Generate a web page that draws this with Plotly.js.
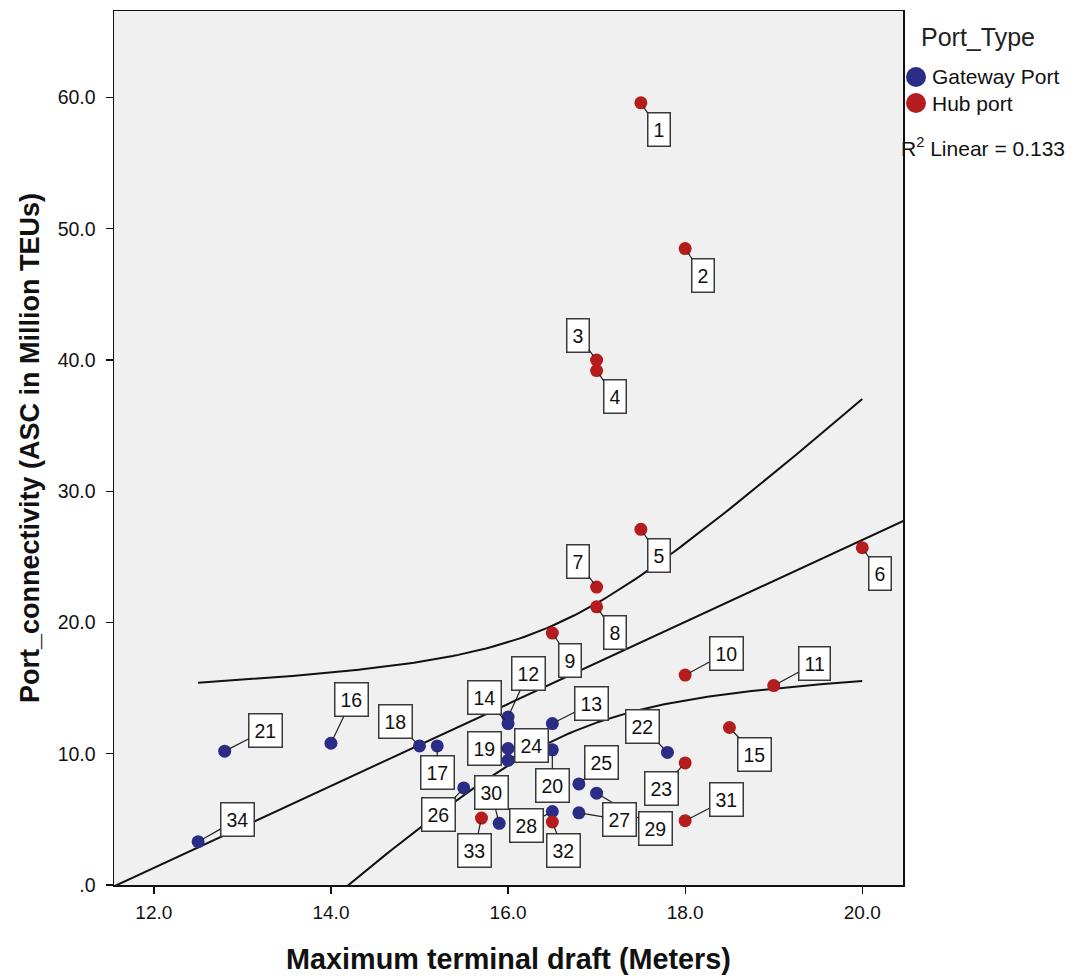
<!DOCTYPE html>
<html>
<head>
<meta charset="utf-8">
<script src="https://cdn.plot.ly/plotly-3.0.1.min.js"></script>
<style>html,body{margin:0;padding:0;background:#fff;}#chart{width:1078px;height:978px;}</style>
</head>
<body>
<div id="chart"></div>
<script>
// ---- data ----
const caseIds = [1,2,3,4,5,6,7,8,9,10,11,12,13,14,15,16,17,18,19,20,21,22,23,24,25,26,27,28,29,30,31,32,33,34];
const draft = [17.5,18.0,17.0,17.0,17.5,20.0,17.0,17.0,16.5,18.0,19.0,16.0,16.5,16.0,18.5,14.0,15.2,15.0,16.0,16.5,12.8,17.8,18.0,16.0,16.8,15.5,16.8,16.5,17.0,15.9,18.0,16.5,15.7,12.5];
const connectivity = [59.6,48.5,40.0,39.2,27.1,25.7,22.7,21.2,19.2,16.0,15.2,12.8,12.3,12.3,12.0,10.8,10.6,10.6,10.4,10.3,10.2,10.1,9.3,9.5,7.7,7.4,5.5,5.6,7.0,4.7,4.9,4.8,5.1,3.3];
const portType = ['Hub port','Hub port','Hub port','Hub port','Hub port','Hub port','Hub port','Hub port','Hub port','Hub port','Hub port',
  'Gateway Port','Gateway Port','Gateway Port','Hub port','Gateway Port','Gateway Port','Gateway Port','Gateway Port','Gateway Port','Gateway Port','Gateway Port',
  'Hub port','Gateway Port','Gateway Port','Gateway Port','Gateway Port','Gateway Port','Gateway Port','Gateway Port','Hub port','Hub port','Hub port','Gateway Port'];
const typeOrder = ['Gateway Port','Hub port'];
const legendTitle = 'Port_Type';
const xTickVals = [12,14,16,18,20];
const xTickText = ['12.0','14.0','16.0','18.0','20.0'];
const yTickVals = [0,10,20,30,40,50,60];
const yTickText = ['.0','10.0','20.0','30.0','40.0','50.0','60.0'];
const r2Text = 'R<sup>2</sup> Linear = 0.133';

// ---- styles / positions (not data) ----
const FONT = 'Liberation Sans, Arial, sans-serif';
const typeColors = {'Gateway Port':'#2a2c86','Hub port':'#b41c1d'};
const labelOffsets = {
  1:[18,27],2:[18,27],3:[-19,-25],4:[18,26],5:[18,26],6:[18,26],7:[-19,-26],8:[18,26],9:[18,27],
  10:[41,-22],11:[41,-22],12:[20,-44],13:[39,-20],14:[-24,-26],15:[25,27],16:[21,-44],17:[0,27],
  18:[-24,-24],19:[-24,0],20:[0,36],21:[41,-21],22:[-25,-26],23:[-24,26],24:[23,-15],25:[23,-21],
  26:[-25,27],27:[41,7],28:[-26,14],29:[59,35],30:[-8,-31],31:[41,-21],32:[11,28],33:[-7,32],34:[39,-22]
};
const xRange = [11.55, 20.46];
const yRange = [0, 66.6];
const M = {l:114, r:175, t:11, b:93};
const W = 1078, H = 978;
const pw = W - M.l - M.r, ph = H - M.t - M.b;
const px2paperX = p => (p - M.l)/pw;
const px2paperY = p => (H - M.b - p)/ph;
const legendSymbolX = 916, legendTextX = 930, legendTitleX = 919, legendTitleY = 37;
const legendItemY = [77, 103];
const r2X = 899, r2Y = 147;
const T975 = 2.0369; // t quantile, df = n-2 = 32

// ---- regression & 95% mean CI computed from data ----
const n = draft.length;
const mx = draft.reduce((a,b)=>a+b,0)/n;
const my = connectivity.reduce((a,b)=>a+b,0)/n;
let sxx=0, sxy=0;
for (let i=0;i<n;i++){ sxx += (draft[i]-mx)**2; sxy += (draft[i]-mx)*(connectivity[i]-my); }
const slope = sxy/sxx, icpt = my - slope*mx;
let sse=0;
for (let i=0;i<n;i++){ sse += (connectivity[i]-(icpt+slope*draft[i]))**2; }
const sErr = Math.sqrt(sse/(n-2));
const xmin = Math.min(...draft), xmax = Math.max(...draft);
const cx=[], cUp=[], cLo=[];
for (let k=0;k<=120;k++){
  const x = xmin + (xmax-xmin)*k/120;
  const hw = T975*sErr*Math.sqrt(1/n + (x-mx)**2/sxx);
  const f = icpt + slope*x;
  cx.push(x); cUp.push(f+hw); cLo.push(f-hw);
}
const fitX = [xRange[0]-0.5, xRange[1]+0.5];
const fitY = fitX.map(x=>icpt+slope*x);

const lineStyle = {color:'#111', width:2};
const traces = [
  {x:fitX, y:fitY, mode:'lines', line:lineStyle, showlegend:false, hoverinfo:'skip'},
  {x:cx, y:cUp, mode:'lines', line:lineStyle, showlegend:false, hoverinfo:'skip'},
  {x:cx, y:cLo, mode:'lines', line:lineStyle, showlegend:false, hoverinfo:'skip'}
];
typeOrder.forEach(t=>{
  const xs=[], ys=[];
  for (let i=0;i<n;i++) if (portType[i]===t){ xs.push(draft[i]); ys.push(connectivity[i]); }
  traces.push({x:xs, y:ys, mode:'markers', name:t, type:'scatter', showlegend:false,
    marker:{color:typeColors[t], size:13, line:{width:0}}});
});

const annotations = [];
for (let i=n-1;i>=0;i--){
  const id = caseIds[i];
  const o = labelOffsets[id];
  annotations.push({x:draft[i], y:connectivity[i], xref:'x', yref:'y', text:String(id),
    showarrow:true, ax:o[0], ay:o[1], arrowhead:0, arrowwidth:1.2, arrowcolor:'#222', standoff:5,
    bgcolor:'#ffffff', bordercolor:'#3a3a3a', borderwidth:1.5, borderpad:5, height:22,
    font:{family:FONT, size:19.5, color:'#111'}});
}
// legend (title, items) and R^2 note
const shapes = [];
annotations.push({xref:'paper', yref:'paper', x:px2paperX(legendTitleX), y:px2paperY(legendTitleY),
  xanchor:'left', yanchor:'middle', text:legendTitle, showarrow:false,
  font:{family:FONT, size:25, color:'#222'}});
typeOrder.forEach((t,k)=>{
  shapes.push({type:'circle', xref:'paper', yref:'paper', xsizemode:'pixel', ysizemode:'pixel',
    xanchor:px2paperX(legendSymbolX), yanchor:px2paperY(legendItemY[k]), x0:-10, x1:10, y0:-10, y1:10,
    fillcolor:typeColors[t], line:{width:0}});
  annotations.push({xref:'paper', yref:'paper', x:px2paperX(legendTextX), y:px2paperY(legendItemY[k]),
    xanchor:'left', yanchor:'middle', text:t, showarrow:false,
    font:{family:FONT, size:21, color:'#111'}});
});
annotations.push({xref:'paper', yref:'paper', x:px2paperX(r2X), y:px2paperY(r2Y), xanchor:'left', yanchor:'middle',
  text:r2Text, showarrow:false, font:{family:FONT, size:21, color:'#111'}});

const layout = {
  width:W, height:H,
  margin:{l:M.l, r:M.r, t:M.t, b:M.b, pad:0},
  paper_bgcolor:'#ffffff', plot_bgcolor:'#f0f0f0',
  font:{family:FONT, color:'#111'},
  showlegend:false,
  xaxis:{range:xRange, tickvals:xTickVals, ticktext:xTickText, ticks:'outside', ticklen:7, tickwidth:1.3,
    tickcolor:'#111', showline:true, linecolor:'#111', linewidth:1.5, mirror:true, showgrid:false, zeroline:false,
    tickfont:{size:19, color:'#111'}, ticklabelstandoff:3,
    title:{text:'Maximum terminal draft (Meters)', standoff:26,
      font:{size:28.8, weight:'bold', color:'#111', family:FONT}}},
  yaxis:{range:yRange, tickvals:yTickVals, ticktext:yTickText, ticks:'outside', ticklen:7, tickwidth:1.3,
    tickcolor:'#111', showline:true, linecolor:'#111', linewidth:1.5, mirror:true, showgrid:false, zeroline:false,
    tickfont:{size:19.5, color:'#111'}, ticklabelstandoff:6,
    title:{text:'Port_connectivity (ASC in Million TEUs)', standoff:10,
      font:{size:27, weight:'bold', color:'#111', family:FONT}}},
  shapes:shapes,
  annotations:annotations
};
Plotly.newPlot('chart', traces, layout, {displayModeBar:false, staticPlot:true});
</script>
</body>
</html>
